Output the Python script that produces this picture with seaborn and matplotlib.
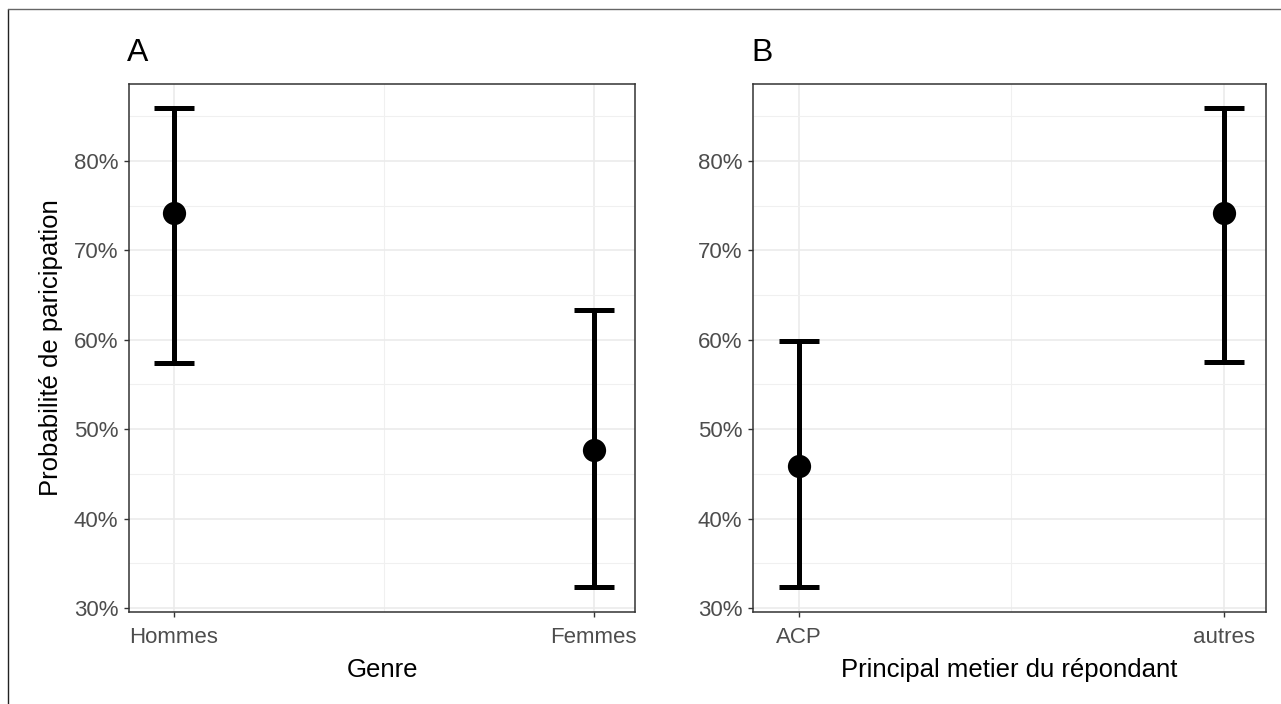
import numpy as np
import matplotlib.pyplot as plt
import matplotlib.ticker as mticker
from matplotlib.lines import Line2D
import seaborn as sns

# ------------------------------
# Data
# ------------------------------
genre = ["Hommes", "Femmes"]
genre_est = [74.2, 47.7]
genre_low = [57.4, 32.3]
genre_high = [85.9, 63.3]

metier = ["ACP", "autres"]
metier_est = [45.9, 74.2]
metier_low = [32.3, 57.5]
metier_high = [59.9, 85.9]

sns.set_theme(style="white")
plt.rcParams["font.family"] = ["Liberation Sans", "DejaVu Sans"]

fig = plt.figure(figsize=(12.81, 7.04), dpi=100)
W, H = 1281, 704

def panel(left, right, cats, est, low, high, xlabel, tag, ylabel=None):
    ax = fig.add_axes([left / W, 1 - 612 / H, (right - left) / W, (612 - 84) / H])
    x = np.arange(len(cats))
    est = np.array(est)
    yerr = [est - np.array(low), np.array(high) - est]
    ax.errorbar(x, est, yerr=yerr, fmt="none", ecolor="black",
                elinewidth=3.6, capsize=14.5, capthick=3.6, zorder=3)
    sns.scatterplot(x=x, y=est, ax=ax, color="black", s=280,
                    edgecolor="black", linewidth=0, zorder=4)
    ax.set_xlim(-0.107, 1.098)
    ax.set_ylim(29.55, 88.6)
    ax.set_xticks(x)
    ax.set_xticklabels(cats)
    ax.xaxis.set_minor_locator(mticker.FixedLocator([0.5]))
    ax.yaxis.set_major_locator(mticker.MultipleLocator(10))
    ax.yaxis.set_minor_locator(mticker.MultipleLocator(5))
    ax.yaxis.set_major_formatter(mticker.FuncFormatter(lambda v, p: f"{v:.0f}%"))
    ax.grid(True, which="major", color="#EBEBEB", linewidth=1.2)
    ax.grid(True, which="minor", color="#F0F0F0", linewidth=0.8)
    ax.set_axisbelow(True)
    for s in ax.spines.values():
        s.set_color("#333333")
        s.set_linewidth(1.1)
    ax.tick_params(axis="both", which="major", length=3.8, width=1.0,
                   color="#333333", labelcolor="#4D4D4D", labelsize=16,
                   bottom=True, left=True, pad=4)
    ax.tick_params(axis="x", which="major", pad=7)
    ax.tick_params(axis="both", which="minor", length=0)
    ax.set_xlabel(xlabel, fontsize=18.5, color="black", labelpad=7)
    if ylabel:
        ax.set_ylabel(ylabel, fontsize=18.5, color="black", labelpad=8)
    else:
        ax.set_ylabel("")
    fig.text((left - 2) / W, 1 - 53 / H, tag, fontsize=23, color="black",
             ha="left", va="center")
    return ax

panel(129, 635, genre, genre_est, genre_low, genre_high, "Genre", "A",
      ylabel="Probabilité de paricipation")
panel(753, 1266, metier, metier_est, metier_low, metier_high,
      "Principal metier du répondant", "B")

# outer frame (left and top edges visible in the reference)
fig.add_artist(Line2D([8 / W, 8 / W], [0, 1 - 9 / H], color="#222222", linewidth=1.0))
fig.add_artist(Line2D([8 / W, 1], [1 - 9 / H, 1 - 9 / H], color="#666666", linewidth=1.0))

fig.savefig("out.png", dpi=100, facecolor="white")
